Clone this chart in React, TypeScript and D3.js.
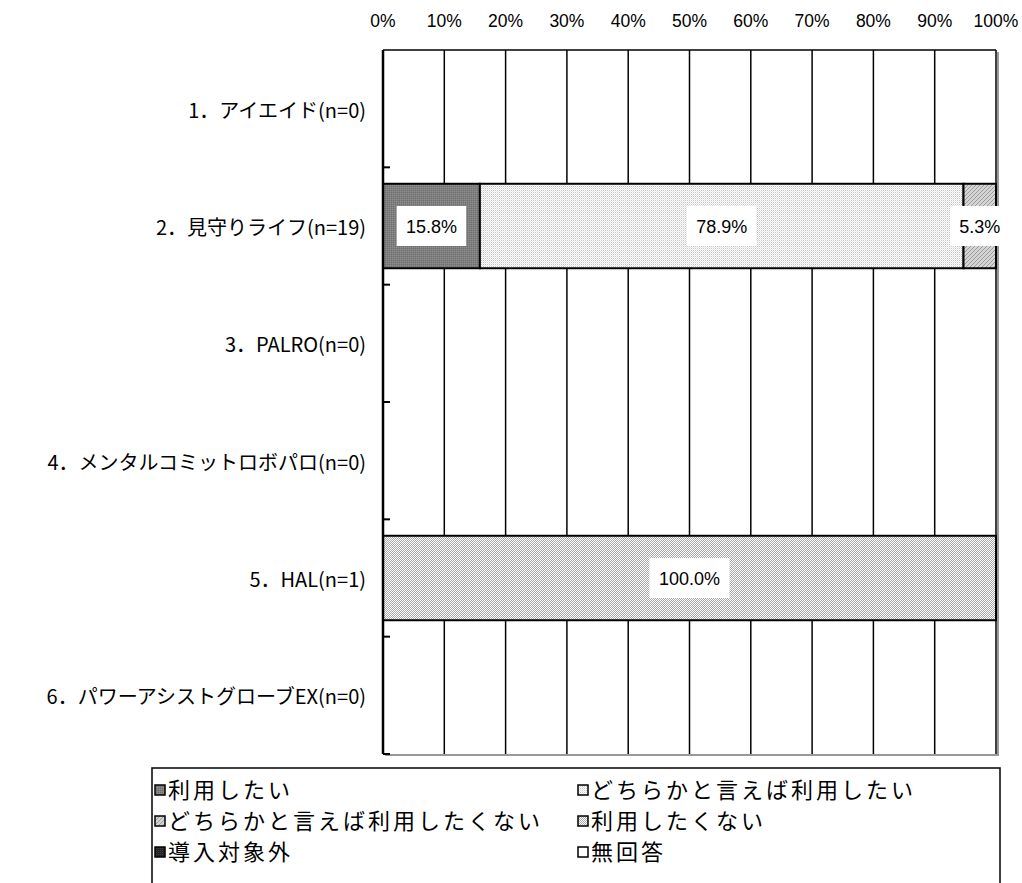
import React from "react";
import * as d3 from "d3";

const categories = [
  "1．アイエイド(n=0)",
  "2．見守りライフ(n=19)",
  "3．PALRO(n=0)",
  "4．メンタルコミットロボパロ(n=0)",
  "5．HAL(n=1)",
  "6．パワーアシストグローブEX(n=0)",
];

const seriesNames = [
  "利用したい",
  "どちらかと言えば利用したい",
  "どちらかと言えば利用したくない",
  "利用したくない",
  "導入対象外",
  "無回答",
];

const want = [0, 15.8, 0, 0, 0, 0];
const ratherWant = [0, 78.9, 0, 0, 0, 0];
const ratherNotWant = [0, 5.3, 0, 0, 0, 0];
const notWant = [0, 0, 0, 0, 100, 0];
const outOfScope = [0, 0, 0, 0, 0, 0];
const noAnswer = [0, 0, 0, 0, 0, 0];

const xTicks = [0, 10, 20, 30, 40, 50, 60, 70, 80, 90, 100];

const seriesValues = [want, ratherWant, ratherNotWant, notWant, outOfScope, noAnswer];
const patternIds = ["p-want", "p-rwant", "p-rnot", "p-not", "p-out", "p-none"];

const FONT = "'Liberation Sans', 'Noto Sans CJK JP', sans-serif";
const JP = "'Noto Sans CJK JP', sans-serif";

export default function App() {
  const width = 1022,
    height = 883;
  const margin = { top: 50, left: 383, right: 26, bottom: 129 };
  const plotW = width - margin.left - margin.right;
  const plotH = height - margin.top - margin.bottom;

  const x = d3.scaleLinear().domain([0, 100]).range([0, plotW]);
  const y = d3
    .scaleBand()
    .domain(categories)
    .range([0, plotH])
    .paddingInner(0.28)
    .paddingOuter(0.14);
  const bandStep = plotH / categories.length;

  const table = categories.map((c, i) => {
    const row: any = { cat: c };
    seriesNames.forEach((s, j) => (row[s] = seriesValues[j][i]));
    return row;
  });
  const stacked = d3.stack().keys(seriesNames)(table);

  const legendCols = [160, 583];
  const legendRows = [790, 821, 852];

  return (
    <svg
      width={width}
      height={height}
      style={{ position: "absolute", left: 0, top: 0, background: "#fff" }}
    >
      <defs>
        <pattern id="p-want" width="2" height="2" patternUnits="userSpaceOnUse">
          <rect width="2" height="2" fill="#808080" />
          <rect width="1" height="1" fill="#6e6e6e" />
          <rect x="1" y="1" width="1" height="1" fill="#8c8c8c" />
        </pattern>
        <pattern id="p-rwant" width="2" height="2" patternUnits="userSpaceOnUse">
          <rect width="2" height="2" fill="#ffffff" />
          <rect width="1" height="1" fill="#c4c4c4" />
          <rect x="1" y="1" width="1" height="1" fill="#e4e4e4" />
        </pattern>
        <pattern id="p-rnot" width="4" height="4" patternUnits="userSpaceOnUse">
          <rect width="4" height="4" fill="#d4d4d4" />
          <rect x="0" y="3" width="1" height="1" fill="#9a9a9a" />
          <rect x="1" y="2" width="1" height="1" fill="#9a9a9a" />
          <rect x="2" y="1" width="1" height="1" fill="#9a9a9a" />
          <rect x="3" y="0" width="1" height="1" fill="#9a9a9a" />
        </pattern>
        <pattern id="p-not" width="2" height="2" patternUnits="userSpaceOnUse">
          <rect width="2" height="2" fill="#ffffff" />
          <rect width="1" height="1" fill="#a8a8a8" />
          <rect x="1" y="1" width="1" height="1" fill="#a8a8a8" />
        </pattern>
        <pattern id="p-out" width="2" height="2" patternUnits="userSpaceOnUse">
          <rect width="2" height="2" fill="#222" />
          <rect width="1" height="1" fill="#444" />
        </pattern>
        <pattern id="p-none" width="2" height="2" patternUnits="userSpaceOnUse">
          <rect width="2" height="2" fill="#fff" />
        </pattern>
      </defs>

      {/* x axis labels on top */}
      {xTicks.map((t) => (
        <text
          key={t}
          x={margin.left + x(t)}
          y={27}
          textAnchor="middle"
          fontFamily={FONT}
          fontSize={17.5}
          fill="#000"
        >
          {t}%
        </text>
      ))}

      <g transform={`translate(${margin.left},${margin.top})`}>
        {/* shadow of plot area */}
        <line x1={2} x2={plotW + 2} y1={plotH + 1} y2={plotH + 1} stroke="#999" strokeWidth={2} />
        <line x1={plotW + 2} x2={plotW + 2} y1={2} y2={plotH + 2} stroke="#999" strokeWidth={2} />

        {/* gridlines */}
        {xTicks.map((t) => (
          <line key={t} x1={x(t)} x2={x(t)} y1={0} y2={plotH} stroke="#000" strokeWidth={1.5} />
        ))}
        <line x1={0} x2={plotW} y1={0} y2={0} stroke="#000" strokeWidth={1.5} />

        {/* bars */}
        {stacked.map((layer, li) =>
          layer.map((d, i) => {
            const w = x(d[1]) - x(d[0]);
            if (w <= 0) return null;
            return (
              <rect
                key={`${li}-${i}`}
                x={x(d[0])}
                y={y(categories[i])}
                width={w}
                height={y.bandwidth()}
                fill={`url(#${patternIds[li]})`}
                stroke="#000"
                strokeWidth={2}
              />
            );
          })
        )}

        {/* data labels */}
        {stacked.map((layer, li) =>
          layer.map((d, i) => {
            const v = d[1] - d[0];
            if (v <= 0) return null;
            const label = `${v.toFixed(1)}%`;
            const cx = x((d[0] + d[1]) / 2);
            const cy = (y(categories[i]) as number) + y.bandwidth() / 2;
            const bw = label.length * 10.5 + 17;
            return (
              <g key={`l-${li}-${i}`}>
                <rect x={cx - bw / 2} y={cy - 20} width={bw} height={40} fill="#fff" />
                <text
                  x={cx}
                  y={cy + 6.5}
                  textAnchor="middle"
                  fontFamily={FONT}
                  fontSize={18}
                  fill="#000"
                >
                  {label}
                </text>
              </g>
            );
          })
        )}

        {/* category axis */}
        <line x1={0} x2={0} y1={0} y2={plotH} stroke="#000" strokeWidth={2.5} />
        {categories.map((c, i) => (
          <line
            key={c}
            x1={0}
            x2={7}
            y1={(i + 1) * bandStep}
            y2={(i + 1) * bandStep}
            stroke="#000"
            strokeWidth={2}
          />
        ))}
        {categories.map((c) => (
          <text
            key={c}
            x={-17}
            y={(y(c) as number) + y.bandwidth() / 2 + 9}
            textAnchor="end"
            fontFamily={JP}
            fontSize={20}
            fill="#000"
          >
            {c}
          </text>
        ))}
      </g>

      {/* legend */}
      <rect x={152} y={768} width={848} height={130} fill="#fff" stroke="#000" strokeWidth={1.5} />
      {seriesNames.map((s, i) => {
        const cx = legendCols[i % 2];
        const cy = legendRows[Math.floor(i / 2)];
        return (
          <g key={s}>
            <rect
              x={cx - 5}
              y={cy - 5}
              width={10}
              height={10}
              fill={`url(#${patternIds[i]})`}
              stroke="#000"
              strokeWidth={1.5}
            />
            <text
              x={cx + 8}
              y={cy + 8}
              fontFamily={JP}
              fontSize={22}
              letterSpacing={3}
              fill="#000"
            >
              {s}
            </text>
          </g>
        );
      })}
    </svg>
  );
}
